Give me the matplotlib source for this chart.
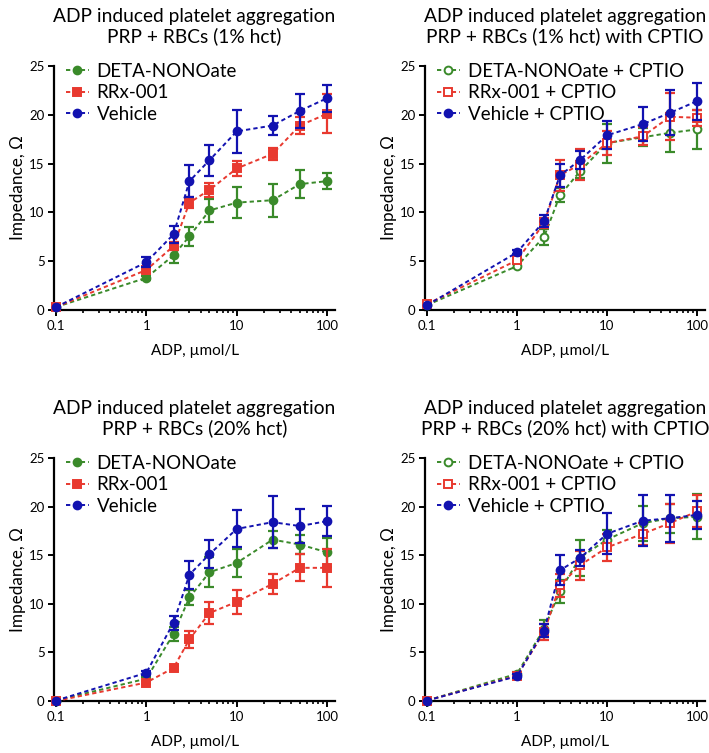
import numpy as np
import matplotlib
matplotlib.use("Agg")
import matplotlib.pyplot as plt

plt.rcParams['font.family'] = ['Lato', 'DejaVu Sans']

# ADP 浓度 (µmol/L)
adp = [0.1, 1, 2, 3, 5, 10, 25, 50, 100]

# 1% hct
deta_1 = [0.3, 3.3, 5.6, 7.55, 10.2, 11.0, 11.25, 12.9, 13.2]
deta_1_err = [0.1, 0.2, 0.75, 1.0, 1.2, 1.6, 1.7, 1.45, 0.8]
rrx_1 = [0.3, 4.1, 6.55, 11.0, 12.3, 14.5, 16.0, 18.9, 20.1]
rrx_1_err = [0.1, 0.3, 0.4, 0.6, 0.7, 0.8, 0.6, 0.9, 2.0]
veh_1 = [0.3, 4.9, 7.75, 13.2, 15.35, 18.3, 18.9, 20.4, 21.7]
veh_1_err = [0.1, 0.5, 0.85, 1.65, 1.6, 2.2, 1.0, 1.75, 1.4]

# 1% hct + CPTIO
deta_1c = [0.5, 4.5, 7.5, 11.75, 14.2, 17.1, 17.7, 18.15, 18.5]
deta_1c_err = [0.1, 0.2, 0.85, 0.7, 0.7, 2.0, 0.9, 2.0, 2.0]
rrx_1c = [0.6, 5.1, 8.9, 13.8, 14.9, 17.1, 17.8, 19.8, 19.7]
rrx_1c_err = [0.1, 0.3, 0.5, 1.6, 1.6, 1.2, 0.9, 2.4, 0.8]
veh_1c = [0.5, 5.9, 9.1, 13.8, 15.35, 17.9, 19.05, 20.2, 21.4]
veh_1c_err = [0.1, 0.2, 0.6, 1.2, 0.9, 1.45, 1.7, 2.3, 1.9]

# 20% hct
deta_20 = [0.05, 2.3, 6.9, 10.65, 13.25, 14.2, 16.6, 16.1, 15.3]
deta_20_err = [0.05, 0.2, 0.7, 0.75, 1.55, 1.45, 0.9, 1.0, 1.5]
rrx_20 = [0.0, 1.9, 3.4, 6.35, 9.05, 10.2, 12.05, 13.7, 13.7]
rrx_20_err = [0.05, 0.2, 0.2, 0.9, 1.1, 1.25, 1.0, 1.4, 1.95]
veh_20 = [0.05, 2.9, 8.05, 13.0, 15.1, 17.7, 18.4, 18.0, 18.5]
veh_20_err = [0.05, 0.2, 0.7, 1.45, 1.45, 1.9, 2.7, 1.75, 1.55]

# 20% hct + CPTIO
deta_20c = [0.05, 2.8, 7.45, 11.3, 14.75, 16.6, 18.3, 18.8, 18.95]
deta_20c_err = [0.05, 0.2, 0.9, 1.2, 1.85, 1.0, 1.8, 1.5, 2.3]
rrx_20c = [0.05, 2.6, 7.1, 11.9, 13.95, 15.8, 17.2, 18.3, 19.5]
rrx_20c_err = [0.05, 0.2, 0.85, 1.2, 1.5, 1.4, 1.1, 2.0, 1.65]
veh_20c = [0.05, 2.55, 7.25, 13.45, 14.7, 17.2, 18.55, 18.8, 19.15]
veh_20c_err = [0.05, 0.2, 0.7, 1.55, 0.85, 2.1, 2.6, 2.4, 1.45]

GREEN = '#3a8a2a'
RED = '#e8392f'
BLUE = '#1212b0'

title_1 = "ADP induced platelet aggregation\nPRP + RBCs (1% hct)"
title_1c = "ADP induced platelet aggregation\nPRP + RBCs (1% hct) with CPTIO"
title_20 = "ADP induced platelet aggregation\nPRP + RBCs (20% hct)"
title_20c = "ADP induced platelet aggregation\nPRP + RBCs (20% hct) with CPTIO"

labels = ["DETA-NONOate", "RRx-001", "Vehicle"]
labels_c = ["DETA-NONOate + CPTIO", "RRx-001 + CPTIO", "Vehicle + CPTIO"]

W, H = 709, 753
fig = plt.figure(figsize=(W / 100, H / 100), dpi=100)


def px_axes(x0, x1, y0, y1):
    # 像素坐标 -> figure 坐标
    return fig.add_axes([x0 / W, 1 - y1 / H, (x1 - x0) / W, (y1 - y0) / H])


def draw_panel(ax, title, series, leg_labels, open_marker):
    markers = ['o', 's', 'o']
    colors = [GREEN, RED, BLUE]
    handles = []
    for i, (y, e) in enumerate(series):
        c = colors[i]
        ax.errorbar(adp, y, yerr=e, fmt='none', ecolor=c, elinewidth=1.6,
                    capsize=3.6, capthick=1.6, zorder=2 + i)
        filled = not (open_marker and i < 2)
        ln, = ax.plot(adp, y, linestyle=(0, (2.2, 1.6)), color=c, lw=1.4,
                      marker=markers[i], ms=5.6 if markers[i] == 'o' else 5.2,
                      mfc=c if filled else 'white', mec=c, mew=1.4,
                      zorder=3 + i, clip_on=False)
        handles.append(ln)
    ax.set_xscale('log')
    ax.set_xlim(0.096, 122)
    ax.set_ylim(0, 25)
    ax.set_yticks([0, 5, 10, 15, 20, 25])
    ax.set_xticks([0.1, 1, 10, 100])
    ax.set_xticklabels(['0.1', '1', '10', '100'])
    for s in ['top', 'right']:
        ax.spines[s].set_visible(False)
    for s in ['left', 'bottom']:
        ax.spines[s].set_linewidth(1.6)
    ax.tick_params(axis='both', which='major', length=4, width=1.4,
                   labelsize=9.5, pad=3)
    ax.tick_params(axis='x', which='minor', length=2.5, width=1.2)
    ax.set_xlabel("ADP, µmol/L", fontsize=11, labelpad=9)
    ax.set_ylabel("Impedance, Ω", fontsize=12.3, labelpad=2)
    ax.set_title(title, fontsize=13.8, pad=17, linespacing=1.15)
    ax.legend(handles, leg_labels, loc='upper left', bbox_to_anchor=(0.0, 1.06),
              frameon=False, fontsize=13.5, handlelength=1.25, handletextpad=0.4,
              labelspacing=0.25, borderaxespad=0.2, numpoints=1)


ax1 = px_axes(54.4, 334.8, 66, 310)
draw_panel(ax1, title_1, [(deta_1, deta_1_err), (rrx_1, rrx_1_err), (veh_1, veh_1_err)],
           labels, False)
ax2 = px_axes(425.4, 704.8, 66, 310)
draw_panel(ax2, title_1c, [(deta_1c, deta_1c_err), (rrx_1c, rrx_1c_err), (veh_1c, veh_1c_err)],
           labels_c, True)
ax3 = px_axes(54.4, 334.8, 458, 701)
draw_panel(ax3, title_20, [(deta_20, deta_20_err), (rrx_20, rrx_20_err), (veh_20, veh_20_err)],
           labels, False)
ax4 = px_axes(425.4, 704.8, 458, 701)
draw_panel(ax4, title_20c, [(deta_20c, deta_20c_err), (rrx_20c, rrx_20c_err), (veh_20c, veh_20c_err)],
           labels_c, True)

plt.savefig('out.png', dpi=100)
